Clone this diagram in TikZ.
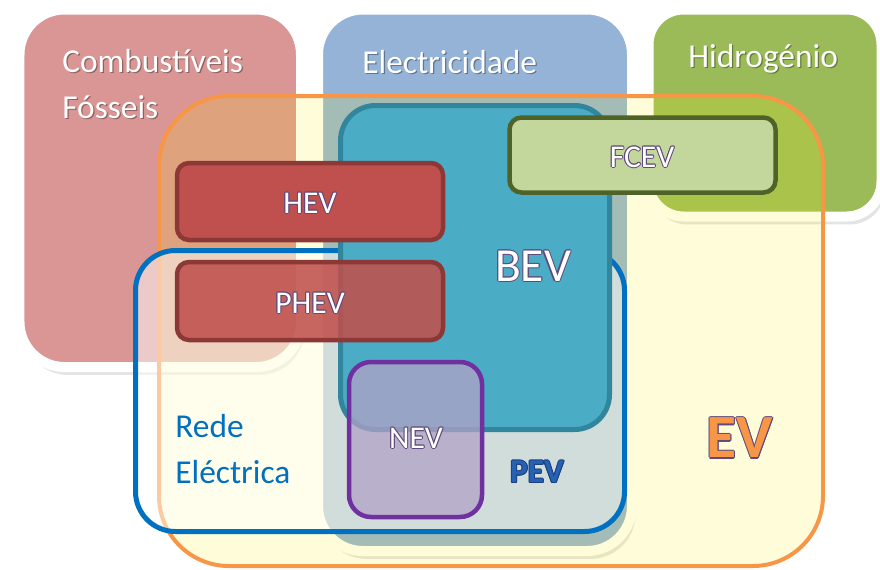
\documentclass[tikz,border=0pt]{standalone}
\usepackage{fontspec}
\setmainfont{Carlito}
\usetikzlibrary{calc,shadows}
\definecolor{evPink}{RGB}{217,150,148}
\definecolor{evBlue}{RGB}{149,179,215}
\definecolor{evGreen}{RGB}{155,187,89}
\definecolor{evOrange}{RGB}{247,150,70}
\definecolor{evNet}{RGB}{0,112,192}
\definecolor{evTeal}{RGB}{75,172,198}
\definecolor{evTealDark}{RGB}{49,133,156}
\definecolor{evRed}{RGB}{192,80,77}
\definecolor{evRedDark}{RGB}{140,56,54}
\definecolor{evLime}{RGB}{195,214,155}
\definecolor{evOlive}{RGB}{79,98,40}
\definecolor{evPurple}{RGB}{112,48,160}
\definecolor{evLilac}{RGB}{178,162,199}
\definecolor{evInk}{RGB}{96,74,123}
\definecolor{evPEV}{RGB}{38,98,178}
\definecolor{evPEVDark}{RGB}{28,62,130}

% outlined label: name, position, fill colour, outline colour, text
\newcommand{\inklabel}[5]{%
  \foreach \a in {0,45,...,315}
    \node[text=#4] at ($(#2)+(\a:0.6pt)$) {#5};
  \node[text=#3] (#1) at (#2) {#5};
}

\begin{document}
\begin{tikzpicture}[
    x=0.02cm, y=-0.02cm,
    source/.style={fill=#1, draw=white, line width=0.2cm, rounded corners=0.9cm,
      drop shadow={shadow xshift=2pt, shadow yshift=-4.5pt, opacity=0.15, fill=black!70}},
    vclass/.style={rounded corners=0.24cm, line width=0.09cm},
    srclabel/.style={text=white, anchor=base west, inner sep=0pt, align=left,
      font=\fontsize{19}{26}\selectfont},
    srcshade/.style={srclabel, text=black, opacity=0.35}
]
\fill[white] (0,0) rectangle (880,569);
\useasboundingbox (0,0) rectangle (880,569);

% Energy sources
\draw[source=evPink] (19.5,9.5) rectangle (301,367);
\draw[source=evBlue] (318,9.5) rectangle (632,551);
\draw[source=evGreen, rounded corners=0.7cm] (648.5,9.5) rectangle (881.5,216.5);

% (multi-line labels sit on the baseline of their last line)
\node[srcshade] at ($(62,118)+(0.7pt,-0.7pt)$) {Combustíveis\\Fósseis};
\node[srclabel] (fossil) at (62,118) {Combustíveis\\Fósseis};
\node[srcshade] at ($(362,73)+(0.7pt,-0.7pt)$) {Electricidade};
\node[srclabel] (power) at (362,73) {Electricidade};
\node[srcshade] at ($(688,67)+(0.7pt,-0.7pt)$) {Hidrogénio};
\node[srclabel] (hydrogen) at (688,67) {Hidrogénio};

% EV and grid
\draw[evOrange, line width=0.08cm, fill=yellow, fill opacity=0.15, rounded corners=1.4cm]
  (159,96) rectangle (823,566);
\draw[evNet, line width=0.1cm, fill=white, fill opacity=0.5, rounded corners=0.8cm]
  (135.5,250.5) rectangle (624.5,531.5);
\node[srclabel, text=evNet] (grid) at (175,483) {Rede\\Eléctrica};

% Vehicle classes
\draw[evTealDark, fill=evTeal, line width=0.1cm, rounded corners=0.7cm]
  (340.5,105.5) rectangle (609.5,429.5);
\draw[vclass, draw=evRedDark, fill=evRed] (177,163) rectangle (443,240);
\draw[vclass, draw=evRedDark, fill=evRed, fill opacity=0.88] (177,262) rectangle (443,340);
\draw[vclass, draw=evOlive, fill=evLime] (509.5,117.5) rectangle (775.5,192.5);
\draw[vclass, rounded corners=0.44cm, draw=evPurple, fill=evLilac, fill opacity=0.75]
  (349,362) rectangle (482,517);

% Labels
\inklabel{hev}{310,203}{white}{evInk}{\fontsize{18}{18}\selectfont HEV}
\inklabel{phev}{310,303}{white}{evInk}{\fontsize{18}{18}\selectfont PHEV}
\inklabel{bev}{533,266}{white}{evInk}{\fontsize{27}{27}\selectfont BEV}
\inklabel{fcev}{642,157}{white}{evInk}{\fontsize{18}{18}\selectfont FCEV}
\inklabel{nev}{416,438}{white}{evInk}{\fontsize{18}{18}\selectfont NEV}
\inklabel{pev}{537,472}{evPEV}{evPEVDark}{\fontsize{19}{19}\selectfont\bfseries PEV}
\inklabel{ev}{740,438}{evOrange}{evInk}{\fontsize{35}{35}\selectfont\bfseries EV}

\end{tikzpicture}
\end{document}
